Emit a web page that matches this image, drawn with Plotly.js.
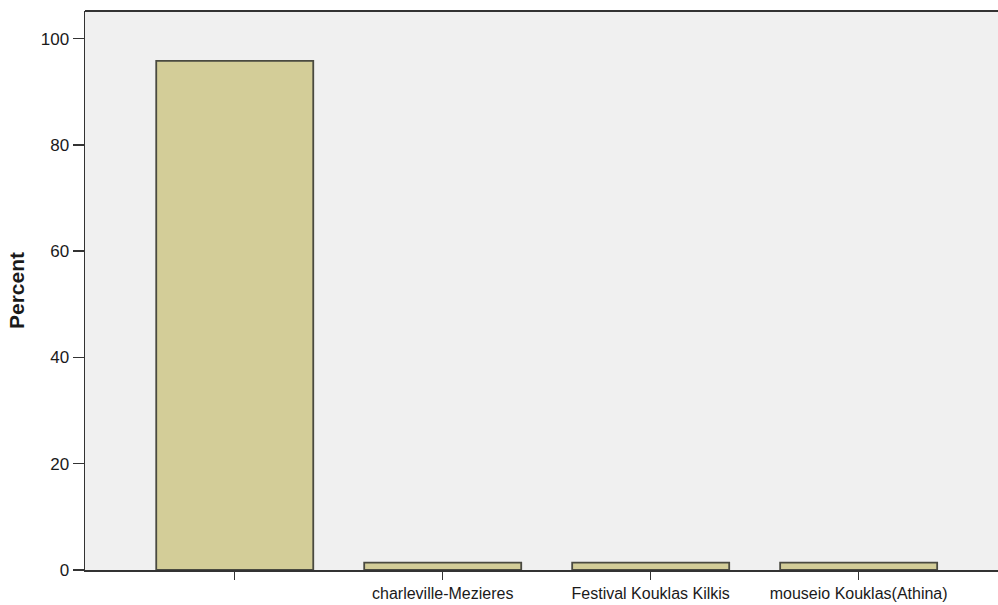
<!DOCTYPE html>
<html>
<head>
<meta charset="utf-8">
<script src="https://cdn.plot.ly/plotly-3.0.1.min.js"></script>
<style>html,body{margin:0;padding:0;background:#fff;}#chart{width:998px;height:605px;}</style>
</head>
<body>
<div id="chart"></div>
<script>
const categories = [" ", "charleville-Mezieres", "Festival Kouklas Kilkis", "mouseio Kouklas(Athina)"];
const percentValues = [95.8, 1.4, 1.4, 1.4];
const yTickValues = [0, 20, 40, 60, 80, 100];

const trace = {
  type: 'bar',
  x: categories,
  y: percentValues,
  width: 0.755,
  marker: {color: '#d3cd98', line: {color: '#4a4a40', width: 1.8}},
  hoverinfo: 'x+y'
};

const layout = {
  width: 998, height: 605,
  margin: {l: 85, r: 0, t: 11, b: 35, pad: 0},
  paper_bgcolor: '#ffffff',
  plot_bgcolor: '#f0f0f0',
  showlegend: false,
  font: {family: 'Liberation Sans, Arial, sans-serif', color: '#1a1a1a'},
  xaxis: {
    type: 'category',
    range: [-0.72, 3.67],
    showline: true, linecolor: '#333', linewidth: 1.5,
    ticks: 'outside', ticklen: 8, tickwidth: 1.5, tickcolor: '#333',
    tickfont: {size: 16, family: 'Liberation Sans, Arial, sans-serif'},
    showgrid: false, zeroline: false, fixedrange: true
  },
  yaxis: {
    range: [0, 105.2],
    tickvals: yTickValues,
    showline: true, linecolor: '#333', linewidth: 1.5,
    ticks: 'outside', ticklen: 11, tickwidth: 1.5, tickcolor: '#333',
    tickfont: {size: 17, family: 'Liberation Sans, Arial, sans-serif'},
    showgrid: false, zeroline: false,
    title: {text: '<b>Percent</b>', font: {size: 21, family: 'Liberation Sans, Arial, sans-serif'}, standoff: 10},
    fixedrange: true
  },
  shapes: [
    {type: 'line', xref: 'paper', yref: 'paper', x0: 0, x1: 1, y0: 1, y1: 1, line: {color: '#333', width: 2}}
  ]
};

Plotly.newPlot('chart', [trace], layout, {displayModeBar: false, staticPlot: true});
</script>
</body>
</html>
